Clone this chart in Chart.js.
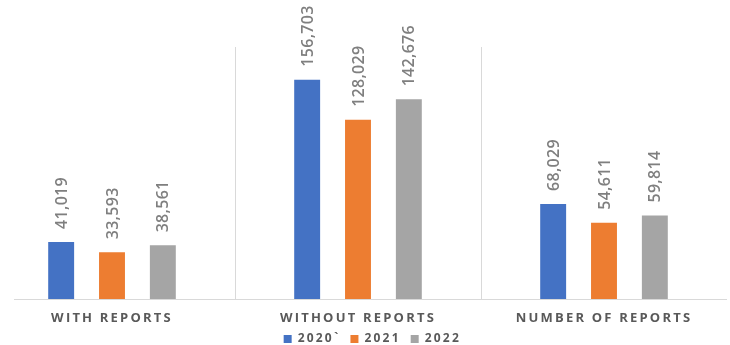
<!DOCTYPE html>
<html>
<head>
<meta charset="utf-8">
<script src="https://cdn.jsdelivr.net/npm/chart.js@4/dist/chart.umd.min.js"></script>
<style>
  html, body { margin: 0; padding: 0; background: #fff; overflow: hidden; }
  #wrap { position: absolute; left: -11px; top: 0; width: 738px; height: 355px; }
</style>
</head>
<body>
<div id="wrap"><canvas id="myChart"></canvas></div>
<script>
// categories and yearly values
const kategorien = ['WITH REPORTS', 'WITHOUT REPORTS', 'NUMBER OF REPORTS'];
const jahre = ['2020`', '2021', '2022'];
const werte2020 = [41019, 156703, 68029];
const werte2021 = [33593, 128029, 54611];
const werte2022 = [38561, 142676, 59814];
const farben = ['#4472C4', '#ED7D31', '#A5A5A5'];

// letter spacing for axis and legend text
const spacingPlugin = {
    id: 'spacing',
    beforeDraw(chart) {
        chart.ctx.letterSpacing = '2.2px';
    }
};

// baseline, starts a bit right of the canvas edge
const baselinePlugin = {
    id: 'baseline',
    afterDatasetsDraw(chart) {
        const ctx = chart.ctx;
        const y = Math.round(chart.scales.y.getPixelForValue(0)) + 0.5;
        ctx.save();
        ctx.strokeStyle = '#d9d9d9';
        ctx.lineWidth = 1;
        ctx.beginPath();
        ctx.moveTo(25, y);
        ctx.lineTo(chart.chartArea.right, y);
        ctx.stroke();
        ctx.restore();
    }
};

// rotated value labels above each bar
const wertLabels = {
    id: 'wertLabels',
    afterDatasetsDraw(chart) {
        const ctx = chart.ctx;
        ctx.save();
        ctx.letterSpacing = '0.3px';
        ctx.fillStyle = '#7f7f7f';
        ctx.font = '600 16px "Open Sans"';
        ctx.textAlign = 'left';
        ctx.textBaseline = 'middle';
        chart.data.datasets.forEach((ds, i) => {
            chart.getDatasetMeta(i).data.forEach((bar, j) => {
                ctx.save();
                ctx.translate(bar.x + 1, bar.y - 13);
                ctx.rotate(-Math.PI / 2);
                ctx.fillText(ds.data[j].toLocaleString('en-US'), 0, 0);
                ctx.restore();
            });
        });
        ctx.restore();
    }
};

const datensaetze = [werte2020, werte2021, werte2022].map((werte, i) => ({
    label: jahre[i],
    data: werte,
    backgroundColor: farben[i],
    borderWidth: 0,
    categoryPercentage: 0.62,
    barPercentage: 0.51
}));

const ctx = document.getElementById('myChart').getContext('2d');
new Chart(ctx, {
    type: 'bar',
    data: { labels: kategorien, datasets: datensaetze },
    options: {
        responsive: true,
        maintainAspectRatio: false,
        animation: false,
        layout: { padding: { top: 47, bottom: 0, left: 0, right: 0 } },
        plugins: {
            legend: {
                position: 'bottom',
                labels: {
                    boxWidth: 8,
                    boxHeight: 8,
                    padding: 10,
                    color: '#595959',
                    font: { family: '"Open Sans"', size: 12, weight: 'bold' }
                }
            },
            tooltip: { enabled: false }
        },
        scales: {
            x: {
                grid: { color: '#d9d9d9', drawTicks: false, offset: true },
                border: { display: false },
                ticks: {
                    padding: 11,
                    color: '#595959',
                    font: { family: '"Open Sans"', size: 13, weight: 'bold' }
                },
                // pull the legend closer to the category labels
                afterFit(scale) {
                    scale.height -= 14;
                }
            },
            y: {
                display: false,
                min: 0,
                max: 180000
            }
        }
    },
    plugins: [spacingPlugin, baselinePlugin, wertLabels]
});
</script>
</body>
</html>
